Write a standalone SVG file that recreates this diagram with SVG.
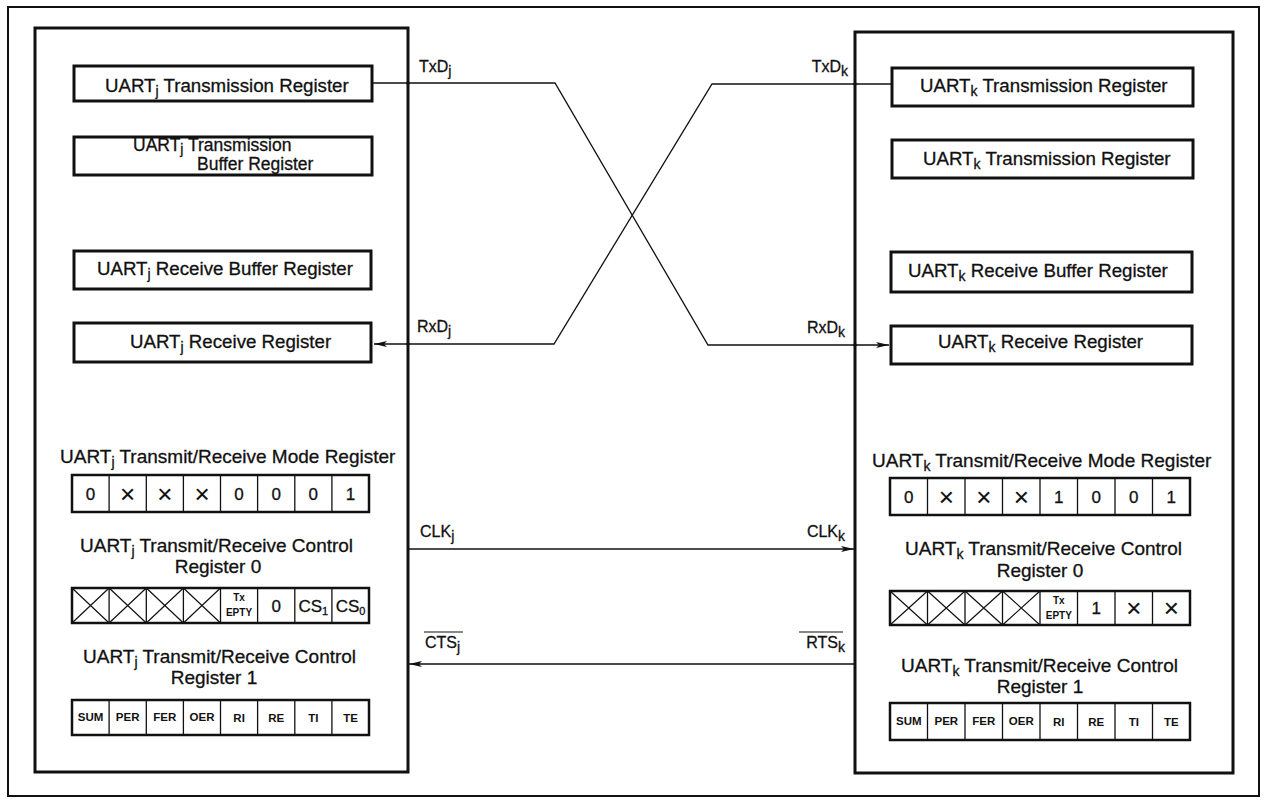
<svg xmlns="http://www.w3.org/2000/svg" width="1267" height="801" viewBox="0 0 1267 801">
<style>
text{font-family:"Liberation Sans",Arial,sans-serif;fill:#111;stroke:#111;stroke-width:0.3}
.frame{fill:none;stroke:#111;stroke-width:2}
.panel{fill:#fff;stroke:#111;stroke-width:3}
.box{fill:#fff;stroke:#111;stroke-width:3}
.t{font-size:18.7px}
.t2{font-size:17.5px}
.lb{font-size:19px}
.sub{font-size:14px}
.sig{font-size:16px}
.cell{fill:#fff;stroke:#111;stroke-width:2.5}
.div{stroke:#111;stroke-width:1.3}
.cv{font-size:17px;text-anchor:middle}
.cx{font-size:26px;text-anchor:middle;stroke-width:0.1}
.cs{font-size:17px;text-anchor:middle}
.sm{font-size:11.5px;font-weight:bold;text-anchor:middle;stroke-width:0}
.tiny{font-size:10px;font-weight:bold;text-anchor:middle;stroke-width:0}
.wire{fill:none;stroke:#111;stroke-width:1.3}
.xline{stroke:#111;stroke-width:1.2}
</style>
<defs>
<marker id="arr" markerUnits="userSpaceOnUse" markerWidth="14" markerHeight="8" refX="13" refY="4" orient="auto">
<path d="M0,1 L13,4 L0,7 L3,4 z" fill="#111"/>
</marker>
</defs>
<rect class="frame" x="8" y="7" width="1251" height="789"/>

<g id="panel-j">
<rect class="panel" x="35" y="28" width="373" height="744"/>
</g>
<g id="panel-k">
<rect class="panel" x="855" y="32" width="378" height="741"/>
</g>

<g id="connectors">
<path class="wire" d="M372,83 H555 L708,345 H889" marker-end="url(#arr)"/>
<path class="wire" d="M892,84 H712 L554,344 H374" marker-end="url(#arr)"/>
<path class="wire" d="M408,549 H854" marker-end="url(#arr)"/>
<path class="wire" d="M855,664 H409" marker-end="url(#arr)"/>
<circle cx="408" cy="83" r="1.8" fill="#111"/>
<circle cx="855" cy="84" r="1.8" fill="#111"/>
<circle cx="408" cy="344" r="1.8" fill="#111"/>
<circle cx="855" cy="345" r="1.8" fill="#111"/>
<text class="sig" x="419" y="72">TxD<tspan class="sub" dy="4">j</tspan></text>
<text class="sig" x="848" y="72" text-anchor="end">TxD<tspan class="sub" dy="4">k</tspan></text>
<text class="sig" x="417" y="332">RxD<tspan class="sub" dy="4">j</tspan></text>
<text class="sig" x="845" y="333" text-anchor="end">RxD<tspan class="sub" dy="4">k</tspan></text>
<text class="sig" x="420" y="537">CLK<tspan class="sub" dy="4">j</tspan></text>
<text class="sig" x="845" y="537" text-anchor="end">CLK<tspan class="sub" dy="4">k</tspan></text>
<text class="sig" x="425" y="648">CTS<tspan class="sub" dy="4">j</tspan></text>
<line x1="424" y1="632" x2="463" y2="632" stroke="#111" stroke-width="1.2"/>
<text class="sig" x="845" y="648" text-anchor="end">RTS<tspan class="sub" dy="4">k</tspan></text>
<line x1="799" y1="632" x2="843" y2="632" stroke="#111" stroke-width="1.2"/>
</g>

<g id="j-tx">
<rect class="box" x="74" y="66" width="298" height="35"/>
<text class="t" x="105" y="92">UART<tspan class="sub" dy="4">j</tspan><tspan dy="-4"> Transmission Register</tspan></text>
</g>
<g id="j-txbuf">
<rect class="box" x="74" y="137" width="298" height="38"/>
<text class="t2" x="133" y="151">UART<tspan class="sub" dy="3">j</tspan><tspan dy="-3"> Transmission</tspan></text>
<text class="t2" x="197" y="169.5">Buffer Register</text>
</g>
<g id="j-rxbuf">
<rect class="box" x="74" y="251" width="297" height="38"/>
<text class="t" x="97" y="275">UART<tspan class="sub" dy="4">j</tspan><tspan dy="-4"> Receive Buffer Register</tspan></text>
</g>
<g id="j-rx">
<rect class="box" x="74" y="323" width="297" height="39"/>
<text class="t" x="130" y="348">UART<tspan class="sub" dy="4">j</tspan><tspan dy="-4"> Receive Register</tspan></text>
</g>

<g id="j-mode">
<text class="lb" x="60" y="463">UART<tspan class="sub" dy="4">j</tspan><tspan dy="-4"> Transmit/Receive Mode Register</tspan></text>
<rect class="cell" x="72" y="475" width="297" height="37"/>
<path class="div" d="M109.1,475V512M146.3,475V512M183.4,475V512M220.5,475V512M257.6,475V512M294.8,475V512M331.9,475V512"/>
<text class="cv" x="90.6" y="500">0</text>
<text class="cx" x="127.7" y="503">×</text>
<text class="cx" x="164.8" y="503">×</text>
<text class="cx" x="202" y="503">×</text>
<text class="cv" x="239.1" y="500">0</text>
<text class="cv" x="276.2" y="500">0</text>
<text class="cv" x="313.3" y="500">0</text>
<text class="cv" x="350.5" y="500">1</text>
</g>

<g id="j-ctrl0">
<text class="lb" x="80" y="552">UART<tspan class="sub" dy="4">j</tspan><tspan dy="-4"> Transmit/Receive Control</tspan></text>
<text class="lb" x="218" y="573" text-anchor="middle">Register  0</text>
<rect class="cell" x="72" y="588" width="297" height="35"/>
<path class="div" d="M109.1,588V623M146.3,588V623M183.4,588V623M220.5,588V623M257.6,588V623M294.8,588V623M331.9,588V623"/>
<path class="xline" d="M72,588L109.1,623M109.1,588L72,623M109.1,588L146.3,623M146.3,588L109.1,623M146.3,588L183.4,623M183.4,588L146.3,623M183.4,588L220.5,623M220.5,588L183.4,623"/>
<text class="tiny" x="239" y="601">Tx</text>
<text class="tiny" x="239" y="616">EPTY</text>
<text class="cs" x="276.2" y="612">0</text>
<text class="cs" x="313.3" y="612">CS<tspan font-size="11" dy="3">1</tspan></text>
<text class="cs" x="350.5" y="612">CS<tspan font-size="11" dy="3">0</tspan></text>
</g>

<g id="j-ctrl1">
<text class="lb" x="83" y="663">UART<tspan class="sub" dy="4">j</tspan><tspan dy="-4"> Transmit/Receive Control</tspan></text>
<text class="lb" x="214" y="684" text-anchor="middle">Register  1</text>
<rect class="cell" x="72" y="700" width="297" height="35"/>
<path class="div" d="M109.1,700V735M146.3,700V735M183.4,700V735M220.5,700V735M257.6,700V735M294.8,700V735M331.9,700V735"/>
<text class="sm" x="90.6" y="721">SUM</text>
<text class="sm" x="127.7" y="721">PER</text>
<text class="sm" x="164.8" y="721">FER</text>
<text class="sm" x="202" y="721">OER</text>
<text class="sm" x="239.1" y="722">RI</text>
<text class="sm" x="276.2" y="722">RE</text>
<text class="sm" x="313.3" y="722">TI</text>
<text class="sm" x="350.5" y="722">TE</text>
</g>

<g id="k-tx">
<rect class="box" x="892" y="68" width="301" height="38"/>
<text class="t" x="920" y="92">UART<tspan class="sub" dy="4">k</tspan><tspan dy="-4"> Transmission Register</tspan></text>
</g>
<g id="k-tx2">
<rect class="box" x="892" y="140" width="301" height="38"/>
<text class="t" x="923" y="165">UART<tspan class="sub" dy="4">k</tspan><tspan dy="-4"> Transmission Register</tspan></text>
</g>
<g id="k-rxbuf">
<rect class="box" x="891" y="252" width="301" height="40"/>
<text class="t" x="908" y="277">UART<tspan class="sub" dy="4">k</tspan><tspan dy="-4"> Receive Buffer Register</tspan></text>
</g>
<g id="k-rx">
<rect class="box" x="891" y="326" width="301" height="38"/>
<text class="t" x="938" y="348">UART<tspan class="sub" dy="4">k</tspan><tspan dy="-4"> Receive Register</tspan></text>
</g>

<g id="k-mode">
<text class="lb" x="872" y="467">UART<tspan class="sub" dy="4">k</tspan><tspan dy="-4"> Transmit/Receive Mode Register</tspan></text>
<rect class="cell" x="890" y="478" width="300" height="37"/>
<path class="div" d="M927.5,478V515M965,478V515M1002.5,478V515M1040,478V515M1077.5,478V515M1115,478V515M1152.5,478V515"/>
<text class="cv" x="908.8" y="503">0</text>
<text class="cx" x="946.3" y="506">×</text>
<text class="cx" x="983.8" y="506">×</text>
<text class="cx" x="1021.3" y="506">×</text>
<text class="cv" x="1058.8" y="503">1</text>
<text class="cv" x="1096.3" y="503">0</text>
<text class="cv" x="1133.8" y="503">0</text>
<text class="cv" x="1171.3" y="503">1</text>
</g>

<g id="k-ctrl0">
<text class="lb" x="905" y="555">UART<tspan class="sub" dy="4">k</tspan><tspan dy="-4"> Transmit/Receive Control</tspan></text>
<text class="lb" x="1040" y="577" text-anchor="middle">Register  0</text>
<rect class="cell" x="890" y="591" width="300" height="34"/>
<path class="div" d="M927.5,591V625M965,591V625M1002.5,591V625M1040,591V625M1077.5,591V625M1115,591V625M1152.5,591V625"/>
<path class="xline" d="M890,591L927.5,625M927.5,591L890,625M927.5,591L965,625M965,591L927.5,625M965,591L1002.5,625M1002.5,591L965,625M1002.5,591L1040,625M1040,591L1002.5,625"/>
<text class="tiny" x="1058.8" y="604">Tx</text>
<text class="tiny" x="1058.8" y="619">EPTY</text>
<text class="cv" x="1096.3" y="614">1</text>
<text class="cx" x="1133.8" y="617">×</text>
<text class="cx" x="1171.3" y="617">×</text>
</g>

<g id="k-ctrl1">
<text class="lb" x="901" y="672">UART<tspan class="sub" dy="4">k</tspan><tspan dy="-4"> Transmit/Receive Control</tspan></text>
<text class="lb" x="1040" y="693" text-anchor="middle">Register  1</text>
<rect class="cell" x="890" y="703" width="300" height="37"/>
<path class="div" d="M927.5,703V740M965,703V740M1002.5,703V740M1040,703V740M1077.5,703V740M1115,703V740M1152.5,703V740"/>
<text class="sm" x="908.8" y="725">SUM</text>
<text class="sm" x="946.3" y="725">PER</text>
<text class="sm" x="983.8" y="725">FER</text>
<text class="sm" x="1021.3" y="725">OER</text>
<text class="sm" x="1058.8" y="726">RI</text>
<text class="sm" x="1096.3" y="726">RE</text>
<text class="sm" x="1133.8" y="726">TI</text>
<text class="sm" x="1171.3" y="726">TE</text>
</g>
</svg>
